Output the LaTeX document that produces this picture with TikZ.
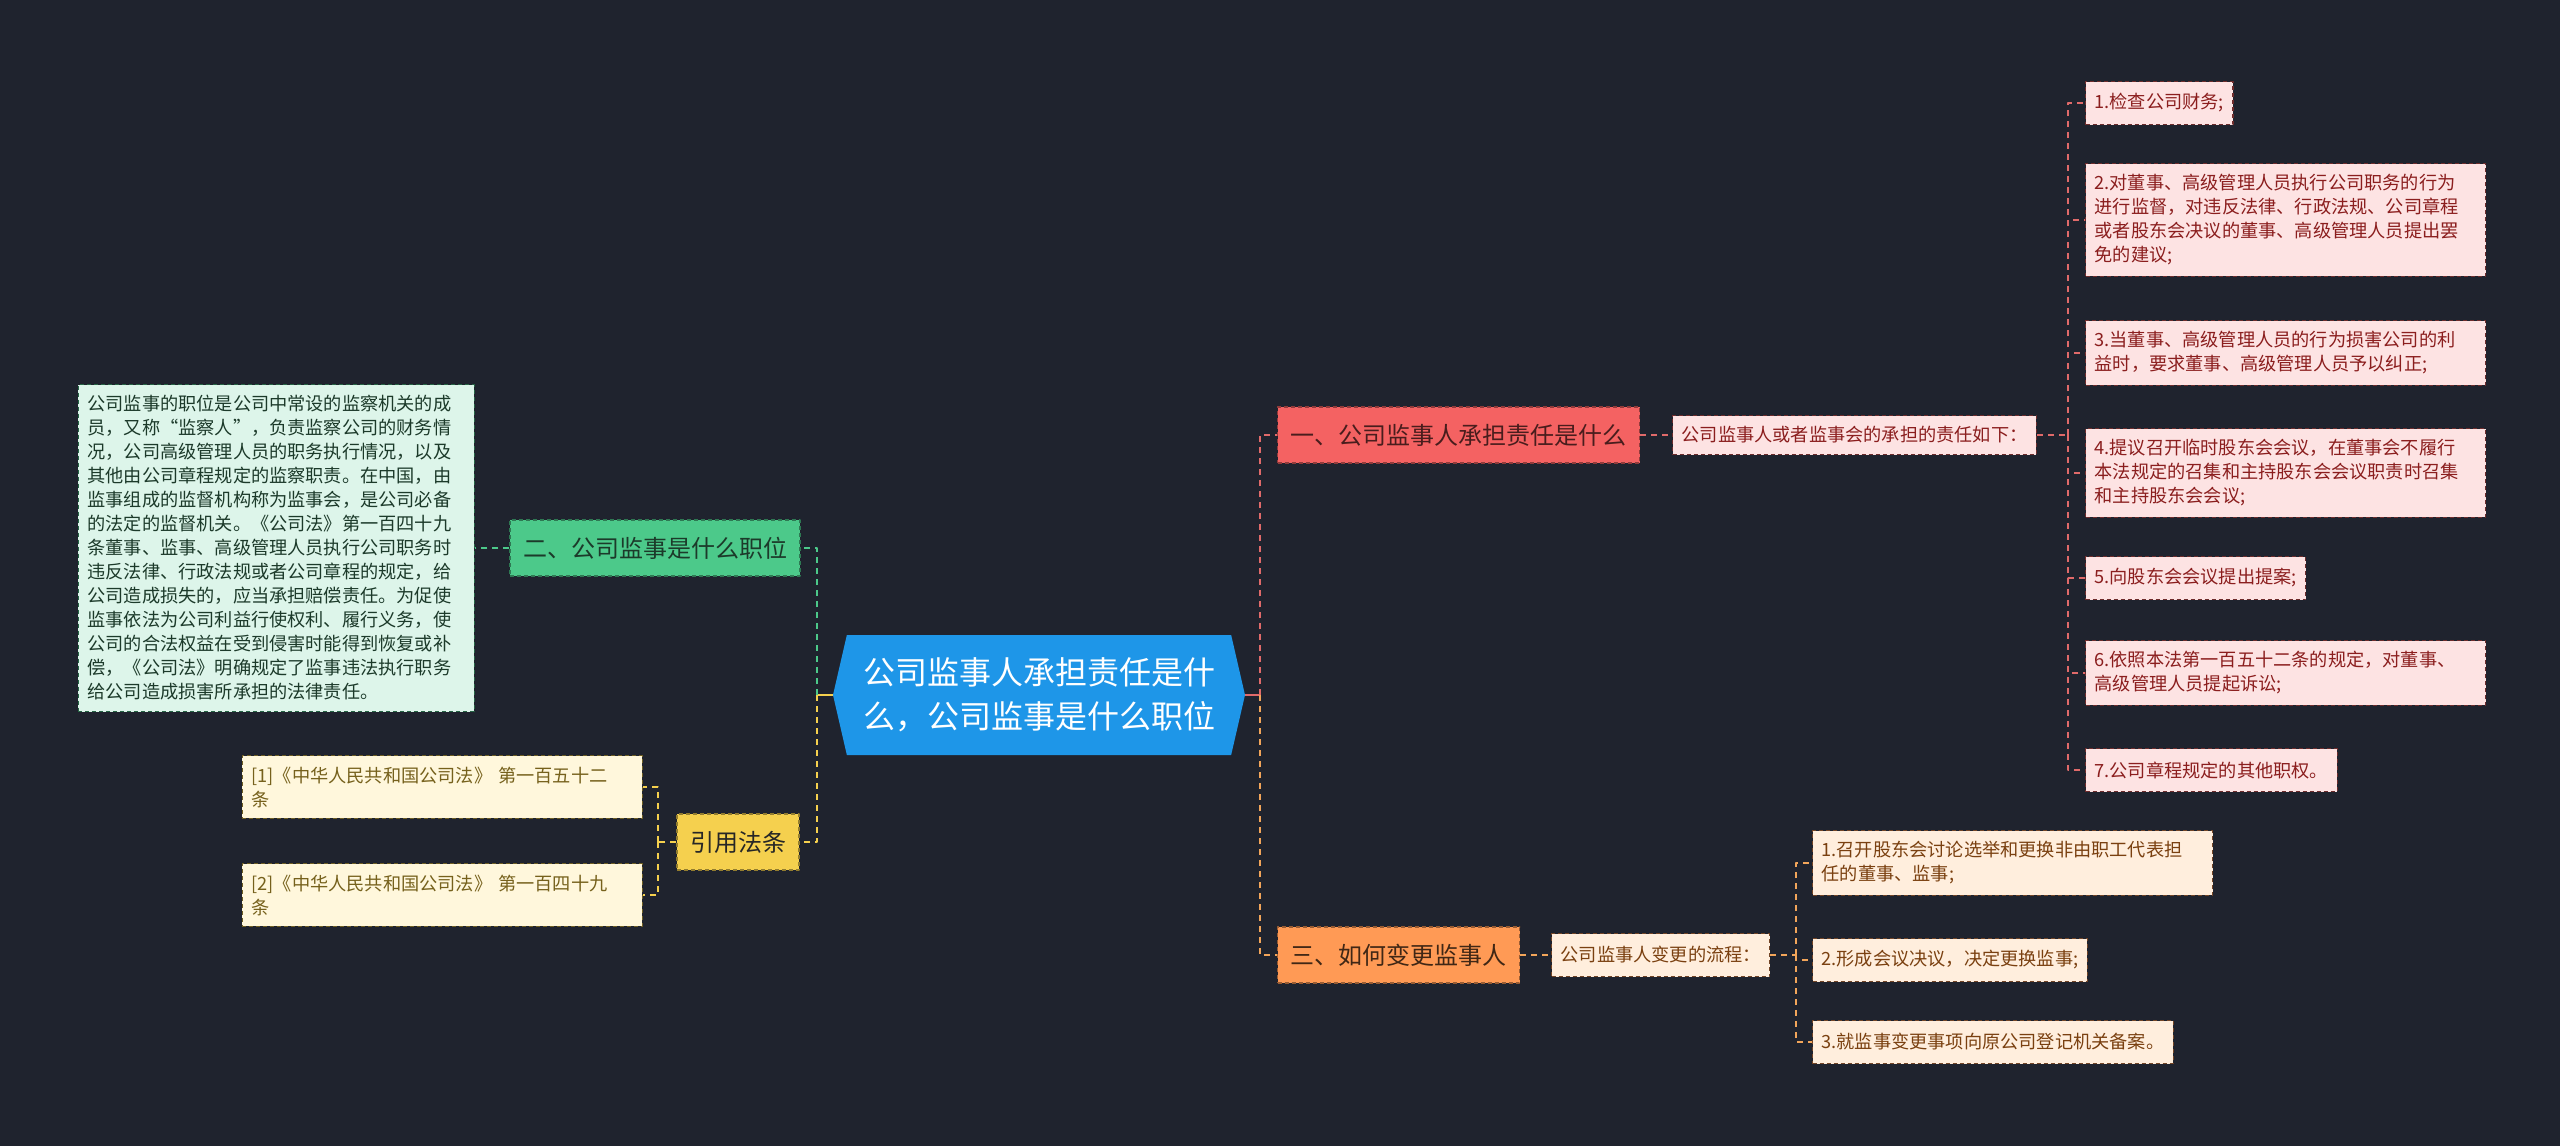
\documentclass[tikz,border=0pt]{standalone}
\usepackage{fontspec}
\setmainfont{Noto Sans CJK SC}
\usetikzlibrary{shapes.symbols}
\definecolor{bgc}{HTML}{1F232E}
\definecolor{mainc}{HTML}{1E96E8}
\definecolor{gnc}{HTML}{4CC98A}
\definecolor{gnl}{HTML}{DDF5EA}
\definecolor{gnt}{HTML}{1C3A2A}
\definecolor{ylc}{HTML}{F5D04E}
\definecolor{yll}{HTML}{FFF7DC}
\definecolor{ylt}{HTML}{76611C}
\definecolor{rdc}{HTML}{F46262}
\definecolor{rdl}{HTML}{FDE3E3}
\definecolor{rdt}{HTML}{8B1E1E}
\definecolor{rde}{HTML}{E06A6A}
\definecolor{orc}{HTML}{FF9A55}
\definecolor{orl}{HTML}{FFEEDD}
\definecolor{ort}{HTML}{7A4010}
\definecolor{ore}{HTML}{F2A55A}
\begin{document}
\begin{tikzpicture}[x=0.5pt, y=-0.5pt, line join=round,
    box/.style={draw, dash pattern=on 2pt off 1.5pt, line width=0.6pt, inner xsep=6.5pt, inner ysep=4pt,
      minimum height=28pt, font=\fontsize{12}{15}\selectfont},
    leaf/.style={draw, dash pattern=on 2pt off 1.5pt, line width=0.6pt, inner xsep=4.5pt, inner ysep=5.5pt,
      minimum height=21.5pt, align=left, font=\fontsize{9.1}{12}\selectfont},
    link/.style={line width=1pt, dash pattern=on 3pt off 2.5pt}]
  \def\wide{191pt} % text width of the long leaves
  \fill[bgc] (0,0) rectangle (2560,1146);
  \useasboundingbox (0,0) rectangle (2560,1146);

  % centre
  \node[shape=signal, signal to=east and west, signal pointer angle=154, fill=mainc, text=white,
    minimum width=206pt, minimum height=60pt, align=center, font=\fontsize{16}{22}\selectfont]
    (main) at (1039,695) {公司监事人承担责任是什\\么，公司监事是什么职位};

  % left side
  \node[box, fill=gnc, draw=gnc!60!black, text=gnt] (sec2) at (655,548) {二、公司监事是什么职位};
  \node[leaf, fill=gnl, draw=gnc!50!black, text=gnt, text width=189pt, anchor=east] (note) at (475,548)
    {公司监事的职位是公司中常设的监察机关的成\\员，又称“监察人”，负责监察公司的财务情\\况，公司高级管理人员的职务执行情况，以及\\其他由公司章程规定的监察职责。在中国，由\\监事组成的监督机构称为监事会，是公司必备\\的法定的监督机关。《公司法》第一百四十九\\条董事、监事、高级管理人员执行公司职务时\\违反法律、行政法规或者公司章程的规定，给\\公司造成损失的，应当承担赔偿责任。为促使\\监事依法为公司利益行使权利、履行义务，使\\公司的合法权益在受到侵害时能得到恢复或补\\偿，《公司法》明确规定了监事违法执行职务\\给公司造成损害所承担的法律责任。};
  \node[box, fill=ylc, draw=ylc!60!black, text=black!85] (cite) at (738,842) {引用法条};
  \node[leaf, fill=yll, draw=ylc!45!black, text=ylt, text width=\wide, anchor=east] (ref1) at (643,787)
    {[1]《中华人民共和国公司法》 第一百五十二\\条};
  \node[leaf, fill=yll, draw=ylc!45!black, text=ylt, text width=\wide, anchor=east] (ref2) at (643,895)
    {[2]《中华人民共和国公司法》 第一百四十九\\条};

  % right side
  \node[box, fill=rdc, draw=rdc!60!black, text=rdc!30!black, anchor=west] (sec1) at (1277,435) {一、公司监事人承担责任是什么};
  \node[leaf, fill=rdl, draw=rdc!45!black, text=rdt, anchor=west, minimum height=19.5pt] (duty) at (1672,435)
    {公司监事人或者监事会的承担的责任如下：};
  \node[leaf, fill=rdl, draw=rdc!45!black, text=rdt, anchor=west] (r1) at (2085,103) {1.检查公司财务;};
  \node[leaf, fill=rdl, draw=rdc!45!black, text=rdt, anchor=west, text width=\wide] (r2) at (2085,220)
    {2.对董事、高级管理人员执行公司职务的行为\\进行监督，对违反法律、行政法规、公司章程\\或者股东会决议的董事、高级管理人员提出罢\\免的建议;};
  \node[leaf, fill=rdl, draw=rdc!45!black, text=rdt, anchor=west, text width=\wide] (r3) at (2085,353)
    {3.当董事、高级管理人员的行为损害公司的利\\益时，要求董事、高级管理人员予以纠正;};
  \node[leaf, fill=rdl, draw=rdc!45!black, text=rdt, anchor=west, text width=\wide] (r4) at (2085,473)
    {4.提议召开临时股东会会议，在董事会不履行\\本法规定的召集和主持股东会会议职责时召集\\和主持股东会会议;};
  \node[leaf, fill=rdl, draw=rdc!45!black, text=rdt, anchor=west] (r5) at (2085,578) {5.向股东会会议提出提案;};
  \node[leaf, fill=rdl, draw=rdc!45!black, text=rdt, anchor=west, text width=\wide] (r6) at (2085,673)
    {6.依照本法第一百五十二条的规定，对董事、\\高级管理人员提起诉讼;};
  \node[leaf, fill=rdl, draw=rdc!45!black, text=rdt, anchor=west] (r7) at (2085,770) {7.公司章程规定的其他职权。};

  \node[box, fill=orc, draw=orc!60!black, text=orc!25!black, anchor=west] (sec3) at (1277,955) {三、如何变更监事人};
  \node[leaf, fill=orl, draw=orc!45!black, text=ort, anchor=west] (flow) at (1551,955) {公司监事人变更的流程：};
  \node[leaf, fill=orl, draw=orc!45!black, text=ort, anchor=west, text width=\wide] (c1) at (1812,863)
    {1.召开股东会讨论选举和更换非由职工代表担\\任的董事、监事;};
  \node[leaf, fill=orl, draw=orc!45!black, text=ort, anchor=west] (c2) at (1812,960) {2.形成会议决议，决定更换监事;};
  \node[leaf, fill=orl, draw=orc!45!black, text=ort, anchor=west] (c3) at (1812,1042) {3.就监事变更事项向原公司登记机关备案。};

  % connectors
  \coordinate (lb) at (817,695);
  \coordinate (rb) at (1260,695);
  \coordinate (cb) at (658,842);
  \coordinate (db) at (2068,435);
  \coordinate (fb) at (1796,955);
  \draw[line width=1pt, ylc] (main.west) -- (lb);
  \draw[link, gnc] (lb) |- (sec2.east);
  \draw[link, ylc] (lb) |- (cite.east);
  \draw[link, gnc] (sec2.west) -- (note.east);
  \draw[link, ylc] (cite.west) -- (cb);
  \foreach \n in {ref1,ref2} \draw[link, ylc] (cb) |- (\n.east);
  \draw[line width=1pt, rde] (main.east) -- (rb);
  \draw[link, rde] (rb) |- (sec1.west);
  \draw[link, ore] (rb) |- (sec3.west);
  \draw[link, rde] (sec1.east) -- (duty.west);
  \draw[link, rde] (duty.east) -- (db);
  \foreach \n in {r1,r2,r3,r4,r5,r6,r7} \draw[link, rde] (db) |- (\n.west);
  \draw[link, ore] (sec3.east) -- (flow.west);
  \draw[link, ore] (flow.east) -- (fb);
  \foreach \n in {c1,c2,c3} \draw[link, ore] (fb) |- (\n.west);
\end{tikzpicture}
\end{document}
